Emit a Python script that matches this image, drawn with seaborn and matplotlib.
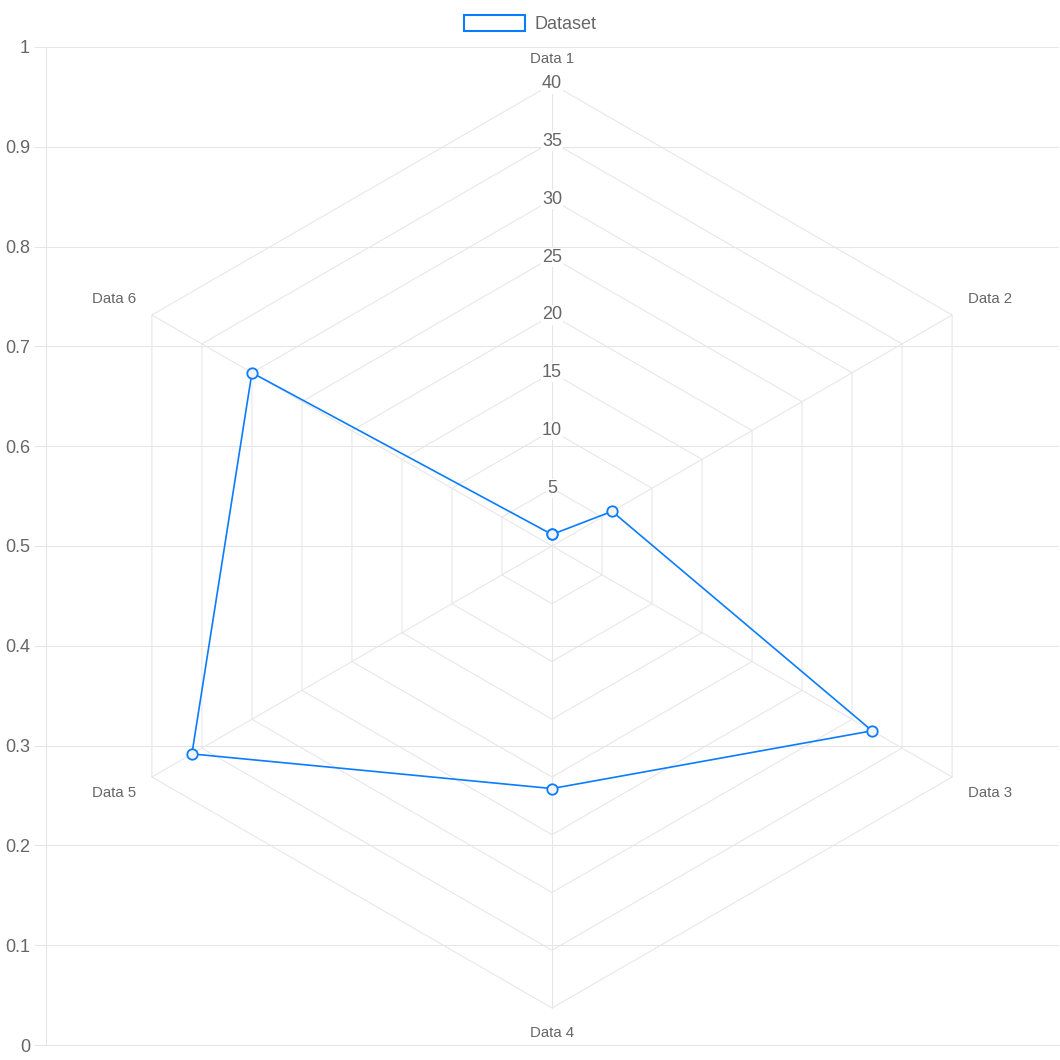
import numpy as np
import pandas as pd
import matplotlib
matplotlib.use('Agg')
import matplotlib.pyplot as plt
import matplotlib.patches as mpatches
import seaborn as sb

# data
labels = ['Data 1', 'Data 2', 'Data 3', 'Data 4', 'Data 5', 'Data 6']
values = [1, 6, 32, 21, 36, 30]
radial_ticks = [5, 10, 15, 20, 25, 30, 35, 40]
left_ticks = [0, 0.1, 0.2, 0.3, 0.4, 0.5, 0.6, 0.7, 0.8, 0.9, 1]
left_tick_labels = ['0', '0.1', '0.2', '0.3', '0.4', '0.5', '0.6', '0.7', '0.8', '0.9', '1']
series_name = 'Dataset'

line_color = '#0a7cff'
grid_color = '#e6e6e6'
text_color = '#666666'

sb.set_style('white')
plt.rcParams['font.family'] = ['Liberation Sans', 'DejaVu Sans']

W = 1060
fig = plt.figure(figsize=(10.6, 10.6), dpi=100)

# cartesian box (pixels from the picture)
left, right, top, bottom = 46, 1059, 47, 1045
rect = [left / W, 1 - bottom / W, (right - left) / W, (bottom - top) / W]

ax = fig.add_axes(rect)
ax.set_ylim(0, 1)
ax.set_xlim(0, 1)
ax.set_yticks(left_ticks)
ax.set_yticklabels(left_tick_labels)
ax.set_xticks([])
ax.grid(axis='y', color=grid_color, linewidth=0.75)
ax.tick_params(axis='y', left=True, length=8.6, width=0.75, color=grid_color, pad=3,
               labelsize=13, labelcolor=text_color)
for s in ['top', 'right']:
    ax.spines[s].set_visible(False)
for s in ['left', 'bottom']:
    ax.spines[s].set_color(grid_color)
    ax.spines[s].set_linewidth(0.75)
ax.set_facecolor('white')

# radar on an overlaid axes, units = radial scale values
cx, cy = 552, 546
px_per_unit = 462 / 40
ax2 = fig.add_axes(rect)
ax2.patch.set_alpha(0)

n = len(labels)
angles = np.pi / 2 - np.arange(n) * 2 * np.pi / n

for r in radial_ticks:
    hx = np.append(r * np.cos(angles), r * np.cos(angles[0]))
    hy = np.append(r * np.sin(angles), r * np.sin(angles[0]))
    ax2.plot(hx, hy, color=grid_color, linewidth=0.75, zorder=1)
rmax = max(radial_ticks)
for a in angles:
    ax2.plot([0, rmax * np.cos(a)], [0, rmax * np.sin(a)], color=grid_color,
             linewidth=0.75, zorder=1)

for r in radial_ticks:
    ax2.text(0, r, str(r), ha='center', va='center', fontsize=13, color=text_color,
             zorder=2, bbox=dict(facecolor='white', edgecolor='none', pad=0.8))

# point labels
lab_r = 480 / px_per_unit
aligns = [('center', 'bottom'), ('left', 'bottom'), ('left', 'top'),
          ('center', 'top'), ('right', 'top'), ('right', 'bottom')]
for lab, a, (ha, va) in zip(labels, angles, aligns):
    ax2.text(lab_r * np.cos(a), lab_r * np.sin(a), lab, ha=ha, va=va,
             fontsize=10.8, color=text_color)

df = pd.DataFrame({'x': np.array(values) * np.cos(angles),
                   'y': np.array(values) * np.sin(angles)})
df = pd.concat([df, df.iloc[[0]]], ignore_index=True)
sb.lineplot(data=df, x='x', y='y', sort=False, estimator=None, ax=ax2,
            color=line_color, linewidth=1.2, marker='o', markersize=7.5,
            markerfacecolor='#f4f4f4', markeredgecolor=line_color,
            markeredgewidth=1.3, zorder=3, legend=False)
ax2.set_xlim(-(cx - left) / px_per_unit, (right - cx) / px_per_unit)
ax2.set_ylim(-(bottom - cy) / px_per_unit, (cy - top) / px_per_unit)
ax2.axis('off')

handle = mpatches.Patch(facecolor='white', edgecolor=line_color, linewidth=1.5)
fig.legend([handle], [series_name], loc='center', bbox_to_anchor=(530 / W, 1 - 24 / W),
           frameon=False, fontsize=13, labelcolor=text_color, handlelength=3.4,
           handleheight=1.0, handletextpad=0.5, borderpad=0, borderaxespad=0)

fig.savefig('out.png', dpi=100, facecolor='white')
